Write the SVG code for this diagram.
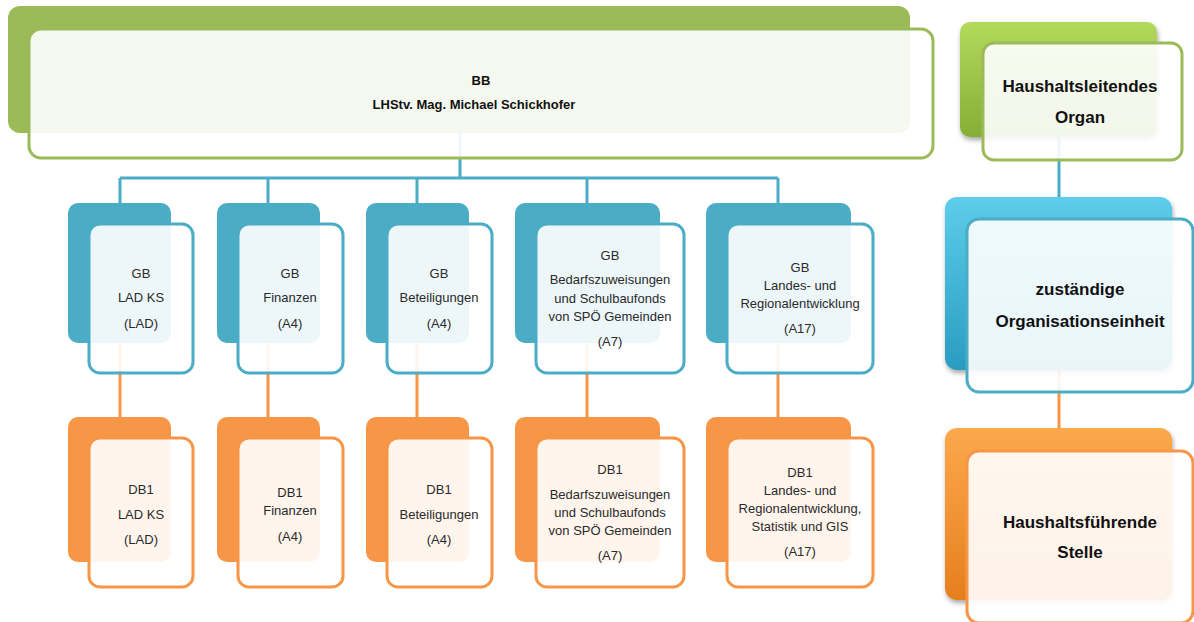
<svg xmlns="http://www.w3.org/2000/svg" width="1194" height="622" viewBox="0 0 1194 622">
<defs>
<linearGradient id="gG" x1="0" y1="0" x2="0" y2="1"><stop offset="0" stop-color="#B3DA5C"/><stop offset="1" stop-color="#86AD35"/></linearGradient>
<linearGradient id="gB" x1="0" y1="0" x2="0" y2="1"><stop offset="0" stop-color="#5DCDEB"/><stop offset="1" stop-color="#2A9CC0"/></linearGradient>
<linearGradient id="gO" x1="0" y1="0" x2="0" y2="1"><stop offset="0" stop-color="#FDA84C"/><stop offset="1" stop-color="#E57F1E"/></linearGradient>
<filter id="sh" x="-10%" y="-10%" width="130%" height="130%"><feDropShadow dx="1" dy="3" stdDeviation="2.5" flood-color="#000" flood-opacity="0.35"/></filter>
<style>
.bg{fill:#9BBB59}.bb{fill:#4BACC6}.bo{fill:#F79646}
.fg{fill:#fff;fill-opacity:0.9;stroke:#9BBB59;stroke-width:3}
.fb{fill:#fff;fill-opacity:0.9;stroke:#4BACC6;stroke-width:3}
.fo{fill:#fff;fill-opacity:0.9;stroke:#F79646;stroke-width:3}
.cb{stroke:#4BACC6;stroke-width:3;fill:none}
.co{stroke:#F79646;stroke-width:3;fill:none}
text{font-family:"Liberation Sans",Arial,sans-serif;fill:#2a2a2a;text-anchor:middle}
.t{font-size:13px}
.h{font-size:13px;font-weight:bold;fill:#111}
.l{font-size:17px;font-weight:bold;fill:#111}
</style>
</defs>
<g id="connectors">
<path class="cb" d="M460 133V178M120 178H778M120 178V205M268 178V205M417 178V205M587 178V205M778 178V205"/>
<path class="co" d="M120 343V420M268 343V420M417 343V420M587 343V420M778 343V420"/>
<path class="cb" d="M1059 137V199"/>
<path class="co" d="M1059 370V430"/>
</g>
<g id="bb">
<rect class="bg" x="8" y="6" width="902" height="127" rx="12"/>
<rect class="fg" x="29" y="29" width="904" height="129" rx="12"/>
<text class="h" x="481" y="85">BB</text>
<text class="h" x="474" y="109">LHStv.  Mag.  Michael Schickhofer</text>
</g>
<g id="gb1">
<rect class="bb" x="68" y="203" width="103" height="140" rx="10"/>
<rect class="fb" x="89" y="224" width="104" height="149" rx="11"/>
<text class="t" x="141" y="278">GB</text><text class="t" x="141" y="302">LAD KS</text><text class="t" x="141" y="328">(LAD)</text>
</g>
<g id="gb2">
<rect class="bb" x="217" y="203" width="103" height="140" rx="10"/>
<rect class="fb" x="238" y="224" width="105" height="149" rx="11"/>
<text class="t" x="290" y="278">GB</text><text class="t" x="290" y="302">Finanzen</text><text class="t" x="290" y="328">(A4)</text>
</g>
<g id="gb3">
<rect class="bb" x="366" y="203" width="103" height="140" rx="10"/>
<rect class="fb" x="387" y="224" width="105" height="149" rx="11"/>
<text class="t" x="439" y="278">GB</text><text class="t" x="439" y="302">Beteiligungen</text><text class="t" x="439" y="328">(A4)</text>
</g>
<g id="gb4">
<rect class="bb" x="515" y="203" width="145" height="140" rx="10"/>
<rect class="fb" x="536" y="224" width="148" height="149" rx="11"/>
<text class="t" x="610" y="260">GB</text><text class="t" x="610" y="284">Bedarfszuweisungen</text><text class="t" x="610" y="303">und Schulbaufonds</text><text class="t" x="610" y="321">von SPÖ Gemeinden</text><text class="t" x="610" y="346">(A7)</text>
</g>
<g id="gb5">
<rect class="bb" x="706" y="203" width="145" height="140" rx="10"/>
<rect class="fb" x="727" y="224" width="146" height="149" rx="11"/>
<text class="t" x="800" y="272">GB</text><text class="t" x="800" y="290">Landes- und</text><text class="t" x="800" y="308">Regionalentwicklung</text><text class="t" x="800" y="333">(A17)</text>
</g>
<g id="db1">
<rect class="bo" x="68" y="417" width="103" height="145" rx="10"/>
<rect class="fo" x="89" y="438" width="104" height="149" rx="11"/>
<text class="t" x="141" y="494">DB1</text><text class="t" x="141" y="519">LAD KS</text><text class="t" x="141" y="544">(LAD)</text>
</g>
<g id="db2">
<rect class="bo" x="217" y="417" width="103" height="145" rx="10"/>
<rect class="fo" x="238" y="438" width="105" height="149" rx="11"/>
<text class="t" x="290" y="497">DB1</text><text class="t" x="290" y="515">Finanzen</text><text class="t" x="290" y="541">(A4)</text>
</g>
<g id="db3">
<rect class="bo" x="366" y="417" width="103" height="145" rx="10"/>
<rect class="fo" x="387" y="438" width="105" height="149" rx="11"/>
<text class="t" x="439" y="494">DB1</text><text class="t" x="439" y="519">Beteiligungen</text><text class="t" x="439" y="544">(A4)</text>
</g>
<g id="db4">
<rect class="bo" x="515" y="417" width="145" height="145" rx="10"/>
<rect class="fo" x="536" y="438" width="148" height="149" rx="11"/>
<text class="t" x="610" y="474">DB1</text><text class="t" x="610" y="499">Bedarfszuweisungen</text><text class="t" x="610" y="517">und Schulbaufonds</text><text class="t" x="610" y="535">von SPÖ Gemeinden</text><text class="t" x="610" y="560">(A7)</text>
</g>
<g id="db5">
<rect class="bo" x="706" y="417" width="145" height="145" rx="10"/>
<rect class="fo" x="727" y="438" width="146" height="149" rx="11"/>
<text class="t" x="800" y="477">DB1</text><text class="t" x="800" y="495">Landes- und</text><text class="t" x="800" y="513">Regionalentwicklung,</text><text class="t" x="800" y="531">Statistik und GIS</text><text class="t" x="800" y="556">(A17)</text>
</g>
<g id="legend-organ">
<rect x="960" y="22" width="197" height="115" rx="10" fill="url(#gG)" filter="url(#sh)"/>
<rect class="fg" x="983" y="43" width="199" height="117" rx="11"/>
<text class="l" x="1080" y="92">Haushaltsleitendes</text>
<text class="l" x="1080" y="123">Organ</text>
</g>
<g id="legend-oe">
<rect x="945" y="197" width="227" height="173" rx="12" fill="url(#gB)" filter="url(#sh)"/>
<rect class="fb" x="967" y="219" width="226" height="173" rx="12"/>
<text class="l" x="1080" y="295">zuständige</text>
<text class="l" x="1080" y="327">Organisationseinheit</text>
</g>
<g id="legend-stelle">
<rect x="945" y="428" width="227" height="172" rx="12" fill="url(#gO)" filter="url(#sh)"/>
<rect class="fo" x="967" y="451" width="226" height="172" rx="12"/>
<text class="l" x="1080" y="528">Haushaltsführende</text>
<text class="l" x="1080" y="558">Stelle</text>
</g>
</svg>
